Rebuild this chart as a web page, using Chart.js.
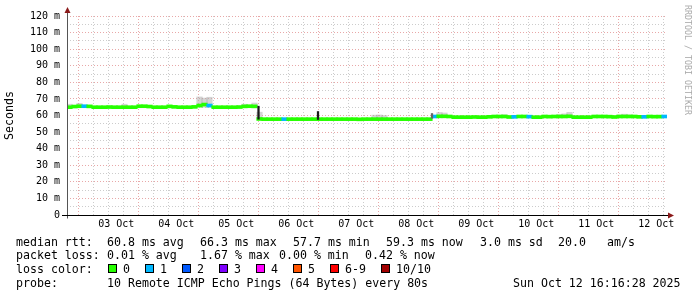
<!DOCTYPE html>
<html>
<head>
<meta charset="utf-8">
<script src="https://cdn.jsdelivr.net/npm/chart.js@4.4.1/dist/chart.umd.min.js"></script>
<style>
  body { margin: 0; background: #fff; }
  #wrap { position: relative; width: 697px; height: 297px; font-family: "DejaVu Sans Mono", monospace; font-size: 11.6px; color: #000; }
  #wrap canvas { position: absolute; left: 0; top: 0; }
  .t { position: absolute; white-space: pre; line-height: 14px; }
  .box { position: absolute; top: 264px; width: 7px; height: 7px; border: 1px solid #000; }
  #mark { position: absolute; left: 693px; top: 5px; font-size: 8.3px; line-height: 10px; color: #aaa; white-space: pre; transform-origin: left top; transform: rotate(90deg); }
</style>
</head>
<body>
<div id="wrap">
  <canvas id="graph" width="697" height="297"></canvas>
  <span id="mark">RRDTOOL / TOBI OETIKER</span>

  <span class="t" style="left:16px;top:234.5px">median rtt:</span>
  <span class="t" style="left:107px;top:234.5px">60.8 ms avg</span>
  <span class="t" style="left:200px;top:234.5px">66.3 ms max</span>
  <span class="t" style="left:293px;top:234.5px">57.7 ms min</span>
  <span class="t" style="left:386px;top:234.5px">59.3 ms now</span>
  <span class="t" style="left:480px;top:234.5px">3.0 ms sd</span>
  <span class="t" style="left:558px;top:234.5px">20.0</span>
  <span class="t" style="left:607px;top:234.5px">am/s</span>

  <span class="t" style="left:16px;top:248px">packet loss:</span>
  <span class="t" style="left:107px;top:248px">0.01 % avg</span>
  <span class="t" style="left:200px;top:248px">1.67 % max</span>
  <span class="t" style="left:279px;top:248px">0.00 % min</span>
  <span class="t" style="left:365px;top:248px">0.42 % now</span>

  <span class="t" style="left:16px;top:261.8px">loss color:</span>
  <div id="lossLegend"></div>

  <span class="t" style="left:16px;top:275.5px">probe:</span>
  <span class="t" style="left:107px;top:275.5px">10 Remote ICMP Echo Pings (64 Bytes) every 80s</span>
  <span class="t" style="left:513px;top:275.5px">Sun Oct 12 16:16:28 2025</span>
</div>
<script>
// hours counted from 02 Oct 00:00, window ends Sun Oct 12 16:16:28
const tStart = 16.27;
const tEnd = 256.27;
const stepHours = 2;

const dayLabels = ['03 Oct', '04 Oct', '05 Oct', '06 Oct', '07 Oct', '08 Oct', '09 Oct', '10 Oct', '11 Oct', '12 Oct'];

// median rtt in ms, one value per 2 hours
const median = [
  65.0, 65.4, 65.6, 65.6, 65.5, 65.0, 65.0, 65.0, 65.1, 65.0,
  65.0, 65.0, 65.0, 65.0, 65.6, 65.6, 65.4, 65.0, 65.0, 65.0,
  65.5, 65.2, 65.0, 65.0, 65.0, 65.2, 66.0, 66.6, 66.0, 65.0,
  65.0, 65.0, 65.0, 65.0, 65.1, 65.5, 65.6, 65.5,
  57.9, 57.8, 57.8, 57.8, 57.8, 57.8, 57.8, 57.8, 57.8, 57.8,
  57.8, 57.8, 57.8, 57.8, 57.8, 57.8, 57.8, 57.8, 57.8, 57.8,
  57.7, 57.8, 57.8, 57.8, 57.8, 57.8, 57.8, 57.8, 57.8, 57.8,
  57.8, 57.8, 57.8, 57.8, 57.8,
  59.4, 59.5, 59.5, 59.4, 59.0, 59.0, 59.0, 59.0, 59.1, 59.0,
  59.0, 59.2, 59.4, 59.4, 59.4, 59.1, 59.2, 59.4, 59.4, 59.3,
  59.0, 59.0, 59.4, 59.3, 59.4, 59.4, 59.4, 59.5, 59.0, 59.0,
  59.0, 59.0, 59.4, 59.4, 59.4, 59.3, 59.1, 59.4, 59.4, 59.4,
  59.4, 59.2, 59.2, 59.4, 59.3, 59.3, 59.4
];

// samples that lost pings (index into median, lost pings out of 10)
const lossIdx = [3, 28, 43, 73, 89, 92, 115, 119];
const lossCount = [1, 1, 1, 1, 1, 1, 1, 1];

// smoke: spread of the individual pings where it shows
const smokeIdx = [0, 2, 11, 26, 27, 28, 35, 37, 38, 61, 62, 63, 74, 75, 87, 98, 99, 100, 110, 111, 112, 118];
const smokeLo  = [65.0, 65.0, 65.0, 65.0, 65.0, 65.0, 65.0, 65.5, 57.8, 57.8, 57.8, 57.8, 59.3, 59.3, 59.3, 59.3, 59.3, 59.3, 59.3, 59.3, 59.3, 59.3];
const smokeHi  = [66.8, 67.3, 66.8, 71.2, 70.5, 71.0, 66.8, 67.5, 62.0, 60.2, 60.3, 60.0, 61.8, 61.5, 60.5, 60.6, 61.0, 61.9, 60.3, 60.8, 60.4, 60.2];

// vertical jumps of the median line (position in samples)
const jumpIdx = [38.3, 50.2, 73.0];
const jumpLo  = [57.8, 57.6, 58.3];
const jumpHi  = [65.6, 62.4, 61.2];

const lossLabels = ['0', '1', '2', '3', '4', '5', '6-9', '10/10'];
const lossColors = ['#26ff00', '#00b8ff', '#0059ff', '#7e00ff', '#ff00ff', '#ff5500', '#ff0000', '#a10000'];

// legend boxes
const legendX = [108, 145, 182, 219, 256, 293, 330, 381];
const lossLegend = document.getElementById('lossLegend');
lossLabels.forEach((lab, i) => {
  const b = document.createElement('div');
  b.className = 'box';
  b.style.left = legendX[i] + 'px';
  b.style.background = lossColors[i];
  lossLegend.appendChild(b);
  const s = document.createElement('span');
  s.className = 't';
  s.style.left = (legendX[i] + 15) + 'px';
  s.style.top = '261.8px';
  s.textContent = lab;
  lossLegend.appendChild(s);
});

function lossColor(i) {
  const k = lossIdx.indexOf(i);
  if (k < 0) return lossColors[0];
  const n = lossCount[k];
  if (n <= 5) return lossColors[n];
  if (n < 10) return lossColors[6];
  return lossColors[7];
}

const gridHours = [];
for (let h = 18; h < tEnd; h += 6) gridHours.push(h);

const mono = { family: 'DejaVu Sans Mono', size: 10 };
const minorGrid = '#cccccc';
const majorGrid = '#e8a8a8';

const axisArrows = {
  id: 'axisArrows',
  afterDraw(chart) {
    const { ctx, chartArea: a } = chart;
    const yb = Math.round(a.bottom) + 0.5;
    const xl = Math.round(a.left) + 0.5;
    ctx.save();
    ctx.lineWidth = 1;
    ctx.strokeStyle = '#555';
    ctx.beginPath();
    ctx.moveTo(xl, yb + 3);
    ctx.lineTo(xl, a.top - 5);
    ctx.stroke();
    ctx.strokeStyle = '#000';
    ctx.beginPath();
    ctx.moveTo(a.left - 5, yb);
    ctx.lineTo(a.right + 3, yb);
    ctx.stroke();
    ctx.fillStyle = '#8b1a1a';
    ctx.beginPath();
    ctx.moveTo(a.right + 7, yb);
    ctx.lineTo(a.right + 1, yb - 3);
    ctx.lineTo(a.right + 1, yb + 3);
    ctx.closePath();
    ctx.fill();
    ctx.beginPath();
    ctx.moveTo(xl, a.top - 9);
    ctx.lineTo(xl - 3, a.top - 3);
    ctx.lineTo(xl + 3, a.top - 3);
    ctx.closePath();
    ctx.fill();
    ctx.restore();
  }
};

new Chart(document.getElementById('graph'), {
  type: 'bar',
  data: {
    datasets: [
      {
        label: 'smoke',
        data: smokeIdx.map((i, k) => ({ x: tStart + stepHours * i + 1, y: [smokeLo[k], smokeHi[k]] })),
        backgroundColor: 'rgba(170,170,170,0.5)',
        barThickness: 5.5,
        grouped: false,
        order: 3
      },
      {
        label: 'median rtt',
        data: median.map((v, i) => ({ x: tStart + stepHours * i + 1, y: [v - 0.9, v + 0.9] })),
        backgroundColor: ctx => lossColor(ctx.dataIndex),
        barThickness: 5.5,
        grouped: false,
        order: 2
      },
      {
        label: 'jumps',
        data: jumpIdx.map((j, k) => ({ x: tStart + stepHours * j, y: [jumpLo[k], jumpHi[k]] })),
        backgroundColor: ctx => ctx.dataIndex === 2 ? '#666' : '#1a1a1a',
        barThickness: 1.6,
        grouped: false,
        order: 1
      }
    ]
  },
  options: {
    responsive: false,
    animation: false,
    layout: { padding: { left: 3.5, right: 30, top: 16, bottom: 64 } },
    plugins: { legend: { display: false }, tooltip: { enabled: false } },
    scales: {
      x: {
        type: 'linear',
        min: tStart,
        max: tEnd,
        offset: false,
        afterBuildTicks: axis => { axis.ticks = gridHours.map(h => ({ value: h })); },
        afterFit: s => { s.height = 18; },
        ticks: {
          autoSkip: false,
          maxRotation: 0,
          padding: 3,
          color: '#000',
          font: mono,
          callback: v => {
            const h = Math.round(v);
            return h % 24 === 12 ? dayLabels[(h - 36) / 24] : '';
          }
        },
        grid: {
          drawTicks: false,
          color: ctx => ctx.tick && Math.round(ctx.tick.value) % 24 === 0 ? majorGrid : minorGrid
        },
        border: { display: false, dash: [1, 2] }
      },
      y: {
        min: 0,
        max: 120,
        afterFit: s => { s.width = 63.5; },
        ticks: {
          stepSize: 5,
          autoSkip: false,
          padding: 7,
          color: '#000',
          font: mono,
          callback: v => v % 10 === 0 ? (v === 0 ? '0' : v + ' m') : ''
        },
        grid: {
          drawTicks: false,
          color: ctx => ctx.tick && ctx.tick.value % 10 === 0 ? majorGrid : minorGrid
        },
        border: { display: false, dash: [1, 2] },
        title: {
          display: true,
          text: 'Seconds',
          color: '#000',
          padding: 0,
          font: { family: 'DejaVu Sans Mono', size: 11.6 }
        }
      }
    }
  },
  plugins: [axisArrows]
});
</script>
</body>
</html>
